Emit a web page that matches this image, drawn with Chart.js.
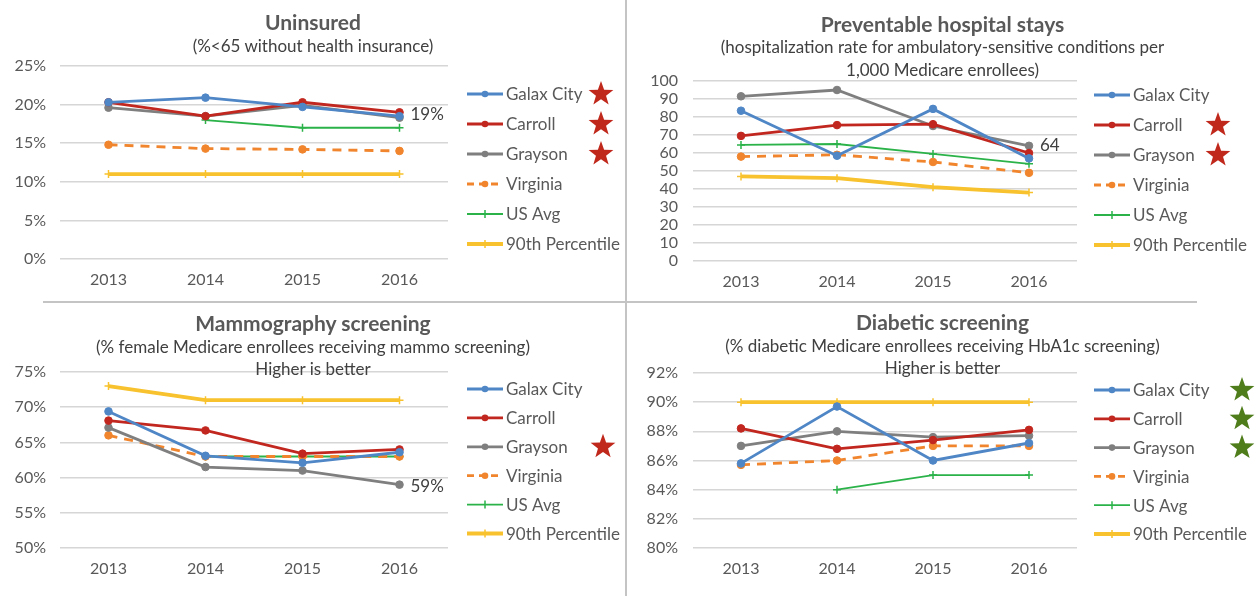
<!DOCTYPE html>
<html>
<head>
<meta charset="utf-8">
<script src="https://cdn.jsdelivr.net/npm/chart.js@4.4.1/dist/chart.umd.min.js"></script>
<style>
  html, body { margin: 0; padding: 0; background: #ffffff; }
  #wrap { position: relative; width: 1258px; height: 596px; overflow: hidden; background: #fff; font-family: Lato, "Open Sans", sans-serif; }
  canvas { position: absolute; }
  .t { position: absolute; text-align: center; color: #595959; white-space: nowrap; }
  .h { font-weight: bold; font-size: 21px; line-height: 24px; }
  .s { font-size: 17px; line-height: 20px; color: #404040; }
  .div { position: absolute; background: #c4c4c4; }
</style>
</head>
<body>
<div id="wrap">
  <canvas id="c1" width="626" height="300" style="left:0;top:0"></canvas>
  <canvas id="c2" width="631" height="300" style="left:627px;top:0"></canvas>
  <canvas id="c3" width="626" height="293" style="left:0;top:303px"></canvas>
  <canvas id="c4" width="631" height="293" style="left:627px;top:303px"></canvas>

  <div class="div" style="left:625px;top:0;width:2px;height:596px"></div>
  <div class="div" style="left:43px;top:301px;width:1154px;height:2px"></div>

  <div class="t h" style="left:0;width:626px;top:10px">Uninsured</div>
  <div class="t s" style="left:0;width:626px;top:36px">(%&lt;65 without health insurance)</div>

  <div class="t h" style="left:627px;width:631px;top:12px">Preventable hospital stays</div>
  <div class="t s" style="left:627px;width:631px;top:37px">(hospitalization rate for ambulatory-sensitive conditions per</div>
  <div class="t s" style="left:627px;width:631px;top:60px">1,000 Medicare enrollees)</div>

  <div class="t h" style="left:0;width:626px;top:311px">Mammography screening</div>
  <div class="t s" style="left:0;width:626px;top:337px">(% female Medicare enrollees receiving mammo screening)</div>
  <div class="t s" style="left:0;width:626px;top:359px">Higher is better</div>

  <div class="t h" style="left:627px;width:631px;top:310px">Diabetic screening</div>
  <div class="t s" style="left:627px;width:631px;top:336px">(% diabetic Medicare enrollees receiving HbA1c screening)</div>
  <div class="t s" style="left:627px;width:631px;top:358px">Higher is better</div>
</div>
<script>
// ---------- DATA ----------
const years = ['2013', '2014', '2015', '2016'];
const seriesNames = ['Galax City', 'Carroll', 'Grayson', 'Virginia', 'US Avg', '90th Percentile'];

// Uninsured (%)
const uninsGalax    = [20.3, 20.9, 19.7, 18.5];
const uninsCarroll  = [20.3, 18.5, 20.3, 19.0];
const uninsGrayson  = [19.6, 18.5, 19.9, 18.3];
const uninsVirginia = [14.8, 14.3, 14.2, 14.0];
const uninsUS       = [null, 18.0, 17.0, 17.0];
const uninsP90      = [11, 11, 11, 11];
const uninsTicks    = { min: 0, max: 25, step: 5, suffix: '%' };

// Preventable hospital stays (per 1,000)
const hospGalax    = [83.5, 58.5, 84.5, 57];
const hospCarroll  = [69.5, 75.5, 76, 60];
const hospGrayson  = [91.5, 95, 75, 64];
const hospVirginia = [58, 59, 55, 49];
const hospUS       = [64.5, 65, 59.5, 54];
const hospP90      = [47, 46, 41, 38];
const hospTicks    = { min: 0, max: 100, step: 10, suffix: '' };

// Mammography screening (%)
const mammoGalax    = [69.4, 63.1, 62.1, 63.6];
const mammoCarroll  = [68.1, 66.7, 63.4, 64.0];
const mammoGrayson  = [67.1, 61.5, 61.0, 59.0];
const mammoVirginia = [66, 63, 63, 63];
const mammoUS       = [null, 63, 63, 63];
const mammoP90      = [73, 71, 71, 71];
const mammoTicks    = { min: 50, max: 75, step: 5, suffix: '%' };

// Diabetic screening (%)
const diabGalax    = [85.8, 89.7, 86.0, 87.2];
const diabCarroll  = [88.2, 86.8, 87.4, 88.1];
const diabGrayson  = [87.0, 88.0, 87.6, 87.7];
const diabVirginia = [85.7, 86.0, 87.0, 87.0];
const diabUS       = [null, 84, 85, 85];
const diabP90      = [90, 90, 90, 90];
const diabTicks    = { min: 80, max: 92, step: 2, suffix: '%' };

// value call-outs and stars
const uninsNote = { text: '19%', series: 1, index: 3 };
const hospNote  = { text: '64', series: 2, index: 3 };
const mammoNote = { text: '59%', series: 2, index: 3 };
const uninsStars = [0, 1, 2];
const hospStars  = [1, 2];
const mammoStars = [2];
const diabStars  = [0, 1, 2];

// ---------- STYLES ----------
const styles = [
  { color: '#4f86c6', width: 2.8, dash: [], point: 'circle' },
  { color: '#c2271f', width: 2.8, dash: [], point: 'circle' },
  { color: '#7f7f7f', width: 2.8, dash: [], point: 'circle' },
  { color: '#f0852d', width: 2.8, dash: [9, 7], point: 'circle' },
  { color: '#2bb34a', width: 1.8, dash: [], point: 'cross' },
  { color: '#f7c22d', width: 3.8, dash: [], point: 'cross' }
];
const FONT = 'Lato, "Open Sans", sans-serif';
const TXT = '#595959';

function buildDatasets(arrs) {
  return arrs.map((d, i) => {
    const s = styles[i];
    return {
      label: seriesNames[i],
      data: d,
      borderColor: s.color,
      backgroundColor: s.color,
      borderWidth: s.width,
      borderDash: s.dash,
      pointStyle: s.point,
      pointRadius: s.point === 'circle' ? 3.8 : 4,
      pointBorderWidth: s.point === 'circle' ? 1 : 1.5,
      pointBorderColor: s.color,
      pointBackgroundColor: s.color,
      tension: 0,
      spanGaps: false
    };
  });
}

function starPath(ctx, cx, cy, R, r) {
  ctx.beginPath();
  for (let i = 0; i < 10; i++) {
    const ang = -Math.PI / 2 + i * Math.PI / 5;
    const rad = i % 2 === 0 ? R : r;
    const x = cx + rad * Math.cos(ang), y = cy + rad * Math.sin(ang);
    if (i === 0) ctx.moveTo(x, y); else ctx.lineTo(x, y);
  }
  ctx.closePath();
}

const overlay = {
  id: 'overlay',
  afterDraw(chart, args, o) {
    const ctx = chart.ctx;
    ctx.save();
    // legend
    chart.data.datasets.forEach((ds, i) => {
      const y = o.legY + i * o.legDy;
      const x0 = o.legX, x1 = o.legX + 36;
      ctx.strokeStyle = ds.borderColor;
      ctx.lineWidth = ds.borderWidth;
      ctx.setLineDash(ds.borderDash.length ? [7, 5] : []);
      ctx.beginPath(); ctx.moveTo(x0, y); ctx.lineTo(x1, y); ctx.stroke();
      ctx.setLineDash([]);
      const mx = (x0 + x1) / 2;
      if (ds.pointStyle === 'circle') {
        ctx.fillStyle = ds.borderColor;
        ctx.beginPath(); ctx.arc(mx, y, 3.3, 0, Math.PI * 2); ctx.fill();
      } else {
        ctx.lineWidth = 1.5;
        ctx.beginPath(); ctx.moveTo(mx, y - 4); ctx.lineTo(mx, y + 4); ctx.stroke();
      }
      ctx.fillStyle = TXT;
      ctx.font = '17px ' + FONT;
      ctx.textBaseline = 'middle';
      ctx.textAlign = 'left';
      ctx.fillText(ds.label, x1 + 3, y + 1);
    });
    // stars
    (o.stars || []).forEach(row => {
      ctx.fillStyle = o.starColor;
      starPath(ctx, o.starX, o.legY + row * o.legDy, 13, 5.3);
      ctx.fill();
    });
    // note
    if (o.note) {
      const meta = chart.getDatasetMeta(o.note.series);
      const pt = meta.data[o.note.index];
      ctx.fillStyle = '#404040';
      ctx.font = '17px ' + FONT;
      ctx.textBaseline = 'middle';
      ctx.textAlign = 'left';
      ctx.fillText(o.note.text, pt.x + o.noteDx, pt.y + o.noteDy);
    }
    ctx.restore();
  }
};

function makeChart(id, arrs, tk, area, ov) {
  const cv = document.getElementById(id);
  const W = cv.width, H = cv.height;
  return new Chart(cv, {
    type: 'line',
    data: { labels: years, datasets: buildDatasets(arrs) },
    options: {
      responsive: false,
      animation: false,
      devicePixelRatio: 1,
      layout: { padding: { left: 0, top: area.top, right: W - area.right, bottom: 0 } },
      scales: {
        x: {
          offset: true,
          grid: { display: false, drawTicks: false },
          border: { display: false },
          ticks: { color: TXT, font: { family: FONT, size: 16 }, padding: 11 },
          afterFit: s => { s.height = H - area.bottom; }
        },
        y: {
          min: tk.min, max: tk.max,
          grid: { color: '#d6d6d6', lineWidth: 1.6, drawTicks: false },
          border: { display: false },
          ticks: { stepSize: tk.step, autoSkip: false, color: TXT, font: { family: FONT, size: 16 },
                   padding: area.tickPad, callback: v => v + tk.suffix },
          afterFit: s => { s.width = area.left; }
        }
      },
      plugins: { legend: { display: false }, tooltip: { enabled: false }, title: { display: false },
                 overlay: ov }
    },
    plugins: [overlay]
  });
}

makeChart('c1', [uninsGalax, uninsCarroll, uninsGrayson, uninsVirginia, uninsUS, uninsP90], uninsTicks,
  { left: 60, top: 66, right: 448, bottom: 259, tickPad: 14 },
  { legX: 467, legY: 94, legDy: 30, stars: uninsStars, starX: 601, starColor: '#c0281c',
    note: uninsNote, noteDx: 11, noteDy: 2 });

makeChart('c2', [hospGalax, hospCarroll, hospGrayson, hospVirginia, hospUS, hospP90], hospTicks,
  { left: 66, top: 81, right: 450, bottom: 261, tickPad: 15 },
  { legX: 467, legY: 95, legDy: 30, stars: hospStars, starX: 591, starColor: '#c0281c',
    note: hospNote, noteDx: 11, noteDy: 0 });

makeChart('c3', [mammoGalax, mammoCarroll, mammoGrayson, mammoVirginia, mammoUS, mammoP90], mammoTicks,
  { left: 60, top: 69, right: 448, bottom: 245, tickPad: 14 },
  { legX: 467, legY: 86, legDy: 28.9, stars: mammoStars, starX: 603, starColor: '#c0281c',
    note: mammoNote, noteDx: 11, noteDy: 2 });

makeChart('c4', [diabGalax, diabCarroll, diabGrayson, diabVirginia, diabUS, diabP90], diabTicks,
  { left: 66, top: 70, right: 450, bottom: 245, tickPad: 15 },
  { legX: 467, legY: 87, legDy: 28.8, stars: diabStars, starX: 615, starColor: '#4f7d1b' });
</script>
</body>
</html>
